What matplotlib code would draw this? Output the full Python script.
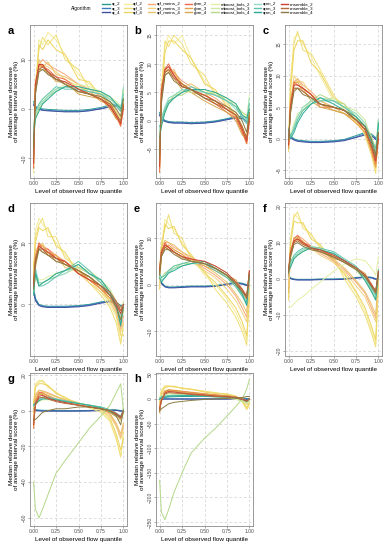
import matplotlib

matplotlib.use("Agg")
import matplotlib.pyplot as plt
from matplotlib.lines import Line2D

plt.rcParams["font.family"] = ["Liberation Sans", "DejaVu Sans"]

# quantile levels shared by every series
quantile_level = [0.0, 0.02, 0.06, 0.1, 0.16, 0.25, 0.35, 0.5, 0.62, 0.75, 0.85, 0.92, 0.97, 1.0]

algorithms = [
    "qr_2", "qr_3", "qr_4",
    "qrf_2", "qrf_3", "qrf_4",
    "qrf_meins_2", "qrf_meins_3", "qrf_meins_4",
    "gbm_2", "gbm_3", "gbm_4",
    "mboost_bols_2", "mboost_bols_3", "mboost_bols_4",
    "qrnn_2", "qrnn_3", "qrnn_4",
    "ensemble_2", "ensemble_3", "ensemble_4",
]

colors = [
    "#2a9d8f", "#3a7dbf", "#3f4f9f",
    "#f5ec9a", "#f0df78", "#eed55e",
    "#f6a77a", "#f3d37e", "#e9c46a",
    "#ef6a45", "#e8a04a", "#d4a84f",
    "#e2f0a4", "#cde8a0", "#b3d888",
    "#8fdcc8", "#5fc4b0", "#2fa996",
    "#cf3f36", "#b5693c", "#8c7a42",
]

panel_a = {
    "qr_2": [1.5, 0.5, 0.2, 0.0, -0.1, -0.2, -0.3, -0.3, -0.1, 0.3, 0.8, 1.0, 0.6, 1.5],
    "qr_3": [1.0, 0.3, 0.0, -0.2, -0.3, -0.4, -0.5, -0.5, -0.3, 0.1, 0.5, 0.7, 0.3, 0.2],
    "qr_4": [0.8, 0.2, -0.1, -0.3, -0.4, -0.5, -0.6, -0.6, -0.4, 0.0, 0.4, 0.6, 0.2, 0.0],
    "qrf_2": [-13, 4, 14, 13, 15.5, 14, 11, 7, 5, 3, 1, -1, -3, 3],
    "qrf_3": [-12, 5, 12, 14.5, 13, 15, 10, 8, 4, 3.5, 0.5, -1.5, -2.5, 4],
    "qrf_4": [-11, 3, 13, 12, 14, 12, 11, 6, 5.5, 2.5, 1.5, -0.5, -2, 2],
    "qrf_meins_2": [-10, 5, 9, 10, 9, 8, 7, 5, 4, 2.5, 1, -1, -3, 1],
    "qrf_meins_3": [-9, 6, 8, 9, 8.5, 7.5, 6, 4.5, 3.5, 2, 0.5, -1.5, -3.5, 2],
    "qrf_meins_4": [-8, 4, 10, 8.5, 9.5, 7, 6.5, 5, 3, 2.5, 1, -2, -2.5, 0],
    "gbm_2": [-12, 4, 9, 8.5, 8, 6.5, 6, 4, 3, 2, 0.5, -1.5, -3.5, 0],
    "gbm_3": [-11, 5, 8.5, 9, 7, 6, 5, 3.5, 3.5, 1.5, 1, -1, -3, 1],
    "gbm_4": [-10, 3, 8, 8, 7.5, 5.5, 5.5, 3, 2.5, 2, 0, -2, -2.5, 0.5],
    "mboost_bols_2": [-4, -1, 1, 2, 3, 4, 5, 5, 4.5, 3.5, 2, 1, 0, 3],
    "mboost_bols_3": [-3, -1.5, 0.5, 1.5, 2.5, 4, 4.5, 4.5, 4, 3, 2.5, 1.5, 0.5, 2],
    "mboost_bols_4": [-5, -2, 0, 1, 2.5, 3.5, 4.5, 4, 4, 3.5, 2, 1, -0.5, 4],
    "qrnn_2": [-5, -1, 0.5, 1.5, 2.5, 4, 4.5, 4, 3.5, 3, 2, 1, 0, 4.5],
    "qrnn_3": [-4, -0.5, 1, 2, 3, 4.5, 4, 4, 3.5, 3, 1.5, 0.5, -0.5, 3],
    "qrnn_4": [-6, -2, -0.5, 1, 2, 3.5, 4.5, 4.5, 4, 3.5, 2.5, 1, 0, 2],
    "ensemble_2": [-11, 5, 9, 9, 7.5, 6, 5.5, 4, 3, 2, 0.5, -1.5, -3, 0.5],
    "ensemble_3": [-10, 4, 8, 8.5, 7.5, 6.5, 5, 3.5, 3, 2, 1, -1, -2.5, 1],
    "ensemble_4": [-8, 3, 7.5, 8, 7, 6, 5, 3.5, 3, 2.5, 1.5, 0, -1.5, 2],
}

panel_b = {
    "qr_2": [1.5, 0.6, 0.1, -0.1, -0.2, -0.2, -0.3, -0.2, 0.0, 0.4, 0.8, 0.7, 0.2, 0.0],
    "qr_3": [1.2, 0.4, 0.0, -0.2, -0.3, -0.3, -0.4, -0.3, -0.1, 0.3, 0.6, 0.5, 0.0, -0.2],
    "qr_4": [1.0, 0.3, -0.1, -0.3, -0.4, -0.4, -0.5, -0.4, -0.2, 0.2, 0.5, 0.4, -0.1, -0.3],
    "qrf_2": [-9, 5, 13, 15, 13.5, 15, 11, 7, 5, 3, 1, -1.5, -4, 2],
    "qrf_3": [-8, 6, 14, 13, 15, 13.5, 10, 8, 4.5, 3.5, 0.5, -2, -3.5, 3],
    "qrf_4": [-7, 4, 12, 14, 14, 12.5, 11, 6.5, 5.5, 2.5, 1.5, -1, -3, 1],
    "qrf_meins_2": [-8, 5, 9, 9.5, 8.5, 7, 6, 5, 4, 2.5, 1, -1.5, -3.5, 0],
    "qrf_meins_3": [-7, 6, 8.5, 9, 8, 6.5, 5.5, 4.5, 3.5, 2, 0.5, -2, -4, 1],
    "qrf_meins_4": [-6, 4, 9.5, 8.5, 9, 6, 6.5, 5, 3, 2.5, 1, -1, -3, 0],
    "gbm_2": [-9, 5, 9, 10, 8, 6, 5.5, 4, 3, 1.5, 0.5, -2, -4, 0],
    "gbm_3": [-8, 6, 8.5, 9, 8.5, 6.5, 5, 4.5, 3.5, 2, 1, -1.5, -3.5, 1],
    "gbm_4": [-7, 4, 8, 8.5, 7.5, 5.5, 5, 3.5, 2.5, 1.5, 0, -2.5, -3, 0.5],
    "mboost_bols_2": [-2, 0, 2, 3.5, 4.5, 5, 5.5, 5, 5, 4, 3, 1.5, 0.5, 4.5],
    "mboost_bols_3": [-1.5, 0.5, 2.5, 3, 4, 5.5, 5, 5.5, 4.5, 4, 2.5, 1, 0, 3],
    "mboost_bols_4": [-2.5, -0.5, 1.5, 3, 4.5, 4.5, 5.5, 4.5, 5, 3.5, 2.5, 1.5, 1, 2],
    "qrnn_2": [-2, 0.5, 2.5, 4, 4.5, 5.5, 5.5, 5, 4.5, 3.5, 2, 1, 0, 4],
    "qrnn_3": [-1, 0, 2, 3.5, 4, 5, 6, 5, 4.5, 3.5, 2.5, 0.5, -0.5, 3],
    "qrnn_4": [-3, -1, 1.5, 3, 4, 5, 5.5, 5.5, 5, 4, 3, 1, 0.5, 2],
    "ensemble_2": [-8, 5, 9, 9.5, 8, 6, 5.5, 4.5, 3.5, 2, 1, -1.5, -3.5, 0.5],
    "ensemble_3": [-7, 4, 8.5, 9, 7.5, 6.5, 5.5, 4, 3, 2, 1, -1, -3, 1],
    "ensemble_4": [-6, 3, 8, 8.5, 7, 6, 5.5, 4, 3.5, 2.5, 1.5, 0, -2, 1.5],
}

panel_c = {
    "qr_2": [1.5, 0.5, 0.0, -0.2, -0.3, -0.4, -0.4, -0.3, -0.1, 0.5, 1.0, 0.8, 0.2, 0.0],
    "qr_3": [1.2, 0.3, -0.1, -0.3, -0.4, -0.5, -0.5, -0.4, -0.2, 0.3, 0.8, 0.6, 0.0, -0.2],
    "qr_4": [1.0, 0.2, -0.2, -0.4, -0.5, -0.6, -0.6, -0.5, -0.3, 0.2, 0.6, 0.5, -0.1, -0.3],
    "qrf_2": [-1, 8, 16, 16.5, 15, 13, 10, 6, 5, 3, 1, -2, -5, 3],
    "qrf_3": [0, 9, 15, 17, 14, 13.5, 11, 7, 4.5, 3.5, 0.5, -2.5, -5.5, 2],
    "qrf_4": [-2, 7, 14, 15.5, 15.5, 12, 10.5, 6.5, 5.5, 2.5, 1.5, -1.5, -4.5, 1],
    "qrf_meins_2": [-1, 6, 9, 9.5, 8.5, 7.5, 6, 5, 4.5, 3, 1.5, -1, -4, 1],
    "qrf_meins_3": [0, 5, 10, 9, 9, 7, 5.5, 4.5, 4, 2.5, 1, -1.5, -4.5, 0],
    "qrf_meins_4": [-1.5, 4, 8.5, 9.5, 8, 7, 6, 5, 4, 3, 2, -0.5, -3.5, 0.5],
    "gbm_2": [-1, 5, 9, 8.5, 8, 7, 5, 5, 4.5, 3, 1.5, -1.5, -4, 0],
    "gbm_3": [-1.5, 6, 8.5, 9, 7.5, 6.5, 5.5, 4.5, 4, 2.5, 1, -2, -4.5, 0.5],
    "gbm_4": [0, 4, 8, 8, 8, 6, 5, 4.5, 4, 3, 2, -1, -3.5, 1],
    "mboost_bols_2": [1.5, 0.5, 2.5, 3.5, 5, 6, 6.5, 6, 5, 4, 2.5, 0.5, -1.5, 3],
    "mboost_bols_3": [1, 0, 2, 4, 4.5, 5.5, 6, 6.5, 5, 4.5, 3, 0, -2, 2.5],
    "mboost_bols_4": [1.5, 0.5, 1.5, 3, 4.5, 6, 7, 6, 5.5, 3.5, 2, 0.5, -2.5, 3],
    "qrnn_2": [1.5, 0, 2, 3.5, 5, 6, 6.5, 6, 5, 4, 2.5, 0, -2, 3],
    "qrnn_3": [1, 0.5, 1.5, 3, 4.5, 5.5, 6, 6, 5, 3.5, 2, 0, -1.5, 2],
    "qrnn_4": [1.5, 0, 1, 2.5, 4, 5.5, 6.5, 5.5, 4.5, 3.5, 2, -0.5, -3, 2.5],
    "ensemble_2": [-1, 5, 8.5, 8.5, 8, 7, 5.5, 5, 4.5, 3, 1.5, -1, -3.5, 0],
    "ensemble_3": [-0.5, 4.5, 8, 8, 7.5, 6.5, 5.5, 5, 4.5, 3, 1.5, -1, -3, 1],
    "ensemble_4": [0, 4, 7.5, 8, 7, 6.5, 5.5, 5, 4.5, 3, 2, 0, -2.5, 1],
}

panel_d = {
    "qr_2": [3, 1, 0.0, -0.2, -0.3, -0.3, -0.3, -0.2, 0.0, 0.4, 0.6, 0.4, -0.2, 0.0],
    "qr_3": [2.5, 0.8, -0.1, -0.3, -0.4, -0.4, -0.4, -0.3, -0.1, 0.3, 0.5, 0.3, -0.3, -0.1],
    "qr_4": [2, 0.6, -0.2, -0.4, -0.5, -0.5, -0.5, -0.4, -0.2, 0.2, 0.4, 0.2, -0.4, -0.2],
    "qrf_2": [5, 12, 14, 13, 12, 10, 8, 5, 4, 2, 0, -2, -6, -4],
    "qrf_3": [4, 11, 13, 14, 11, 11, 7.5, 6, 3.5, 1.5, -0.5, -3, -6.5, -3],
    "qrf_4": [6, 10, 12.5, 12, 12.5, 9.5, 8.5, 5, 4.5, 2.5, 0.5, -1.5, -5, -5],
    "qrf_meins_2": [4, 8, 10, 9.5, 9, 8, 7, 5.5, 4, 2.5, 1, -1, -4, -2],
    "qrf_meins_3": [3, 7, 9.5, 9, 8.5, 7.5, 6.5, 5, 3.5, 2, 0.5, -1.5, -4.5, -3],
    "qrf_meins_4": [5, 9, 9, 10, 8, 8, 6, 5.5, 4.5, 2.5, 1, -0.5, -3.5, -1],
    "gbm_2": [3, 7, 10, 9, 9, 7.5, 7, 5, 4, 2.5, 1.5, 0, -1, 0],
    "gbm_3": [4, 8, 9.5, 9.5, 8.5, 8, 6.5, 5.5, 4, 2.5, 1, -0.5, -1.5, -1],
    "gbm_4": [2, 6, 9, 8.5, 8.5, 7, 7, 5, 4.5, 3, 1.5, 0.5, -0.5, 0],
    "mboost_bols_2": [2, 5, 4, 4, 4.5, 5, 5.5, 6.5, 5, 4, 2, 0, -2.5, 0],
    "mboost_bols_3": [1.5, 5.5, 3.5, 3.5, 4, 4.5, 5, 6, 5.5, 4, 2.5, 0.5, -2, 0.5],
    "mboost_bols_4": [2.5, 4.5, 3, 3.5, 4, 5, 5.5, 6, 5, 3.5, 2, -0.5, -3, -1],
    "qrnn_2": [2, 6, 3.5, 3.5, 4, 4.5, 5, 6.5, 5, 4, 2, 0, -2, 0],
    "qrnn_3": [2.5, 5.5, 3, 3, 3.5, 4.5, 5.5, 7, 5.5, 3.5, 1.5, -0.5, -3, -0.5],
    "qrnn_4": [1.5, 5, 3, 3.5, 4, 5, 5.5, 6.5, 5, 4, 2, 0, -3.5, 0],
    "ensemble_2": [3, 7, 9.5, 9, 8.5, 7.5, 7, 5, 4, 3, 1.5, 0, -1.5, 0],
    "ensemble_3": [3.5, 7.5, 9, 9, 8, 7.5, 6.5, 5.5, 4.5, 3, 2, 0.5, -1, 0],
    "ensemble_4": [2.5, 6.5, 9, 8.5, 8, 7, 6.5, 5.5, 4.5, 3, 1.5, -0.5, -2.5, -0.5],
}

panel_e = {
    "qr_2": [2, 0.5, -0.3, -0.5, -0.5, -0.4, -0.3, -0.3, -0.2, 0.2, 0.5, 0.3, 0.0, 0.0],
    "qr_3": [1.5, 0.3, -0.4, -0.6, -0.6, -0.5, -0.4, -0.4, -0.3, 0.1, 0.4, 0.2, -0.1, -0.1],
    "qr_4": [1.2, 0.2, -0.5, -0.7, -0.7, -0.6, -0.5, -0.5, -0.4, 0.0, 0.3, 0.1, -0.2, -0.2],
    "qrf_2": [0, 8, 14, 13, 12, 9, 6, 2, 0, -3, -6, -9, -12, -2],
    "qrf_3": [1, 9, 12, 15, 11, 10, 5.5, 3, -1, -4, -7, -10, -13, -1],
    "qrf_4": [-1, 7, 13, 12, 12.5, 8.5, 6.5, 2.5, 0.5, -2.5, -5, -8, -11, -3],
    "qrf_meins_2": [1, 7, 9, 9, 8, 7, 5.5, 3.5, 2, 0, -2.5, -5, -7, 0],
    "qrf_meins_3": [0, 6, 8.5, 8, 7.5, 6.5, 5, 3, 1.5, -1, -3.5, -6, -8, -1],
    "qrf_meins_4": [2, 8, 9.5, 9, 8.5, 7, 6, 4, 2.5, 0.5, -2, -4, -6, 1],
    "gbm_2": [3, 7, 9, 8, 7, 6, 5.5, 4.5, 3.5, 2, 0.5, -1.5, -3, 3],
    "gbm_3": [2, 6, 8, 8.5, 7.5, 6.5, 5, 4, 3, 1.5, 0, -2, -3.5, 2],
    "gbm_4": [4, 7.5, 8.5, 7.5, 7, 5.5, 5.5, 4.5, 3.5, 2, 1, -1, -2.5, 3],
    "mboost_bols_2": [2, 1.5, 2, 3, 4, 4.5, 5, 4.5, 3.5, 2, 0.5, -1.5, -3, 2],
    "mboost_bols_3": [2.5, 1, 1.5, 2.5, 3.5, 4, 4.5, 5, 4, 2.5, 0, -2, -3.5, 1.5],
    "mboost_bols_4": [1.5, 1.5, 2.5, 3, 3.5, 4.5, 4.5, 4.5, 3.5, 1.5, -0.5, -2.5, -4, 2.5],
    "qrnn_2": [2, 1, 1.5, 2.5, 3.5, 4, 4.5, 4.5, 3.5, 2, 0, -2, -3.5, 2],
    "qrnn_3": [2.5, 1.5, 2, 3, 4, 4.5, 5, 4.5, 3, 1.5, -0.5, -2.5, -4, 1.5],
    "qrnn_4": [1.5, 0.5, 1.5, 2.5, 3, 4, 4.5, 5, 3.5, 2, 0, -2, -4.5, 2.5],
    "ensemble_2": [3, 7, 8.5, 8, 7, 6, 5.5, 5, 4, 2.5, 0.5, -1, -2.5, 3],
    "ensemble_3": [2.5, 6.5, 8, 7.5, 7, 6, 5, 4.5, 3.5, 2, 0.5, -1.5, -3, 2.5],
    "ensemble_4": [2, 6, 7.5, 7.5, 6.5, 5.5, 5, 4.5, 3.5, 2, 0, -1.5, -2.5, 2],
}

panel_f = {
    "qr_2": [1, 0.2, -0.1, -0.2, -0.2, -0.2, -0.1, -0.1, 0.0, 0.3, 0.5, 0.4, 0.0, 0.0],
    "qr_3": [0.8, 0.1, -0.2, -0.3, -0.3, -0.3, -0.2, -0.2, -0.1, 0.2, 0.4, 0.3, -0.1, -0.1],
    "qr_4": [0.6, 0.0, -0.3, -0.4, -0.4, -0.4, -0.3, -0.3, -0.2, 0.1, 0.3, 0.2, -0.2, -0.2],
    "qrf_2": [-5, 10, 18, 17, 15, 12, 9, 5, 1, -4, -9, -14, -18, 0],
    "qrf_3": [-4, 11, 17, 18.5, 14, 12.5, 8.5, 6, 0, -5, -10, -15, -19, -2],
    "qrf_4": [-6, 9, 16, 15.5, 15.5, 11, 9.5, 4.5, 1.5, -3.5, -8, -13, -17, 1],
    "qrf_meins_2": [-3, 6, 11, 12, 11, 9, 7, 5, 2.5, -1, -4, -8, -11, 0],
    "qrf_meins_3": [-2, 5, 10, 11, 10, 8.5, 6.5, 4.5, 2, -2, -5, -9, -12, -1],
    "qrf_meins_4": [-4, 7, 11.5, 11, 10.5, 8, 7.5, 5.5, 3, -0.5, -3.5, -7, -10, 1],
    "gbm_2": [2, 7, 11, 12, 10, 9, 8, 6, 5, 3, 1, -2, -4, 2],
    "gbm_3": [3, 8, 10.5, 11, 9.5, 8.5, 7.5, 6.5, 4.5, 2.5, 0.5, -2.5, -4.5, 1],
    "gbm_4": [1, 6, 10, 11.5, 10, 8.5, 8, 5.5, 5, 3, 1.5, -1.5, -3.5, 2.5],
    "mboost_bols_2": [-8, -8, -7, -6, -5, -3, -1, 2, 4, 5.5, 5, 3, 1, 6],
    "mboost_bols_3": [1.5, 4, 6, 7, 8, 8.5, 8, 7, 5, 3, 0, -3, -5, 2],
    "mboost_bols_4": [2.5, 3.5, 5.5, 6.5, 7.5, 9, 8.5, 6.5, 4.5, 2.5, -0.5, -3.5, -5.5, 1.5],
    "qrnn_2": [2, 4, 6, 7, 8, 9, 8, 7, 5, 3, 0, -3, -5, 2],
    "qrnn_3": [1.5, 4.5, 6.5, 7.5, 8.5, 8.5, 8.5, 7.5, 5.5, 3.5, 0.5, -2.5, -4.5, 2.5],
    "qrnn_4": [2.5, 3, 5.5, 6.5, 7.5, 8.5, 8, 7, 5, 3, -0.5, -3.5, -6, 1.5],
    "ensemble_2": [2, 7, 10.5, 11, 10, 8.5, 8, 6.5, 5, 3, 1, -1.5, -3.5, 2],
    "ensemble_3": [2.5, 6.5, 10, 10.5, 9.5, 8.5, 7.5, 6, 4.5, 3, 1, -2, -4, 1.5],
    "ensemble_4": [1.5, 6, 9.5, 10, 9, 8, 7.5, 6, 4.5, 2.5, 0.5, -2, -3.5, 1],
}

panel_g = {
    "qr_2": [1, 0.5, 0.3, 0.2, 0.1, 0.0, 0.0, 0.0, 0.1, 0.3, 0.5, 0.4, 0.0, 0.0],
    "qr_3": [0.5, 0.2, 0.0, -0.1, -0.2, -0.2, -0.2, -0.2, -0.1, 0.1, 0.3, 0.2, -0.2, -0.2],
    "qr_4": [0.3, 0.0, -0.2, -0.3, -0.3, -0.3, -0.3, -0.3, -0.2, 0.0, 0.2, 0.1, -0.3, -0.3],
    "qrf_2": [3, 15, 17, 16, 14, 10, 7, 4, 2, 0, -5, -15, -25, -15],
    "qrf_3": [2, 14, 16, 17, 13, 10.5, 6.5, 4.5, 1.5, -1, -6, -16, -26, -12],
    "qrf_4": [4, 13, 15, 15, 14, 9.5, 7.5, 3.5, 2.5, 0.5, -4, -13, -22, -16],
    "qrf_meins_2": [-2, 8, 11, 11, 10, 8, 6, 4, 3, 1.5, -2, -8, -15, -8],
    "qrf_meins_3": [-3, 7, 10, 10.5, 9.5, 7.5, 5.5, 3.5, 2.5, 1, -3, -9, -16, -10],
    "qrf_meins_4": [-1, 9, 11.5, 11, 9.5, 8, 6, 4, 3, 1.5, -1.5, -7, -13, -7],
    "gbm_2": [-10, 5, 10, 10, 8, 6, 5, 3, 2, 1, -1, -3, -5, 0],
    "gbm_3": [-8, 6, 9.5, 9.5, 8.5, 6.5, 5, 3.5, 2.5, 1.5, -0.5, -2.5, -4.5, 1],
    "gbm_4": [-9, 4, 9, 9, 7.5, 6, 4.5, 3, 2, 1, -1, -3.5, -5.5, -1],
    "mboost_bols_2": [3, 4, 5, 6, 6, 5.5, 5, 4, 3, 2, 0, -3, -6, -2],
    "mboost_bols_3": [2, 3, 5.5, 6.5, 6.5, 6, 5, 4, 3, 2, 0.5, -2, -4, -1],
    "mboost_bols_4": [-40, -55, -60, -55, -47, -35, -28, -18, -10, -3, 3, 10, 15, 0],
    "qrnn_2": [3, 4, 6, 7, 7, 6, 5, 4, 3, 2, 0, -2, -3, 0],
    "qrnn_3": [2.5, 4.5, 6.5, 7.5, 7.5, 6.5, 5.5, 4, 3, 2, 0.5, -1.5, -3, 0.5],
    "qrnn_4": [3.5, 3.5, 5.5, 6.5, 6.5, 6, 5, 4, 3, 1.5, -0.5, -2.5, -4, -0.5],
    "ensemble_2": [-8, 4, 8, 8.5, 7, 5.5, 4.5, 3, 2, 1, 0, -2, -4, 0],
    "ensemble_3": [-6, 3, 7, 7.5, 6.5, 5, 4, 3, 2, 1, 0, -1.5, -3.5, 0],
    "ensemble_4": [-5, -5, -3, -1, 0, 1, 1, 2, 2, 1, 0, -3, -8, 0],
}

panel_h = {
    "qr_2": [1, 2, 3, 4, 4.5, 5, 5, 5, 4.5, 4, 3, 2, 1, 1],
    "qr_3": [0, 0, 0.5, 0.5, 0.5, 0.5, 0.5, 0.5, 0.5, 0.5, 0.5, 0.5, 0, 0],
    "qr_4": [-1, -1, -0.5, -0.5, -0.5, -0.5, -0.5, -0.5, -0.5, -0.5, 0, 0, -1, -1],
    "qrf_2": [-10, 15, 25, 27, 25, 22, 20, 15, 12, 10, 5, -5, -20, -10],
    "qrf_3": [-8, 18, 27, 26, 24, 23, 19, 16, 13, 9, 4, -6, -22, -12],
    "qrf_4": [-12, 13, 23, 25, 26, 21, 20, 14, 11, 10, 6, -4, -18, -8],
    "qrf_meins_2": [-15, 8, 16, 18, 17, 15, 13, 10, 8, 6, 3, -3, -10, -5],
    "qrf_meins_3": [-18, 6, 15, 17, 16, 14, 12, 9, 7, 5, 2, -4, -12, -6],
    "qrf_meins_4": [-12, 9, 17, 19, 18, 16, 14, 11, 9, 7, 4, -2, -8, -4],
    "gbm_2": [-25, 0, 15, 18, 17, 15, 13, 10, 8, 6, 4, 0, -5, 0],
    "gbm_3": [-22, 3, 14, 17, 16, 14, 12, 9, 7, 5, 3, -1, -6, -2],
    "gbm_4": [-28, -3, 13, 16, 16, 14, 12, 9, 7, 6, 4, 1, -4, 0],
    "mboost_bols_2": [5, 8, 10, 11, 11, 10, 9, 7, 5, 3, 0, -4, -8, -3],
    "mboost_bols_3": [3, 6, 9, 10, 10, 9, 8, 6, 4, 2, -1, -5, -10, -5],
    "mboost_bols_4": [-165, -230, -245, -225, -190, -150, -110, -80, -60, -35, -15, 0, 20, 40],
    "qrnn_2": [0, 3, 5, 6, 7, 7, 7, 6, 5, 4, 3, 0, -5, 0],
    "qrnn_3": [1, 4, 6, 7, 7.5, 7.5, 7, 6, 5, 4, 2, -1, -6, -1],
    "qrnn_4": [-1, 2, 4, 5, 6, 6.5, 6.5, 5.5, 4.5, 3.5, 2, -1, -4, 0],
    "ensemble_2": [-20, -2, 12, 15, 14, 12, 10, 8, 6, 5, 3, 0, -4, 0],
    "ensemble_3": [-22, -5, 10, 13, 12, 11, 9, 7, 5, 4, 2, -1, -5, 0],
    "ensemble_4": [-25, -20, -15, -10, -7, -5, -3, -1, 0, 1, 2, 3, 5, 5],
}

panels = [
    ("a", panel_a, (-14, 17), [-10, 0, 10]),
    ("b", panel_b, (-10, 16.8), [-5, 0, 5, 10, 15]),
    ("c", panel_c, (-6.2, 18), [-5, 0, 5, 10, 15]),
    ("d", panel_d, (-8.4, 16.5), [0, 10]),
    ("e", panel_e, (-15.3, 17.5), [-10, 0, 10]),
    ("f", panel_f, (-21.5, 21), [-20, -10, 0, 10, 20]),
    ("g", panel_g, (-64.5, 21), [-60, -40, -20, 0, 20]),
    ("h", panel_h, (-258, 52.7), [-250, -200, -150, -100, -50, 0, 50]),
]

W, H = 389, 550
col_left = [30, 156, 285]
row_top = [25, 203, 373]
ax_w, ax_h = 97, 153

fig = plt.figure(figsize=(W / 100, H / 100), dpi=100)

for i, (letter, data, ylim, yticks) in enumerate(panels):
    r, c = divmod(i, 3)
    left = col_left[c]
    top = row_top[r]
    ax = fig.add_axes([left / W, 1 - (top + ax_h) / H, ax_w / W, ax_h / H])
    for name, col in zip(algorithms, colors):
        ax.plot(quantile_level, data[name], color=col, linewidth=0.7)
    ax.set_xlim(-0.04, 1.04)
    ax.set_ylim(*ylim)
    ax.set_xticks([0, 0.25, 0.5, 0.75, 1.0])
    ax.set_xticklabels(["0.00", "0.25", "0.50", "0.75", "1.00"])
    ax.set_yticks(yticks)
    ax.grid(True, color="#d0d0d0", linestyle=(0, (4, 3)), linewidth=0.5)
    ax.set_axisbelow(True)
    for s in ax.spines.values():
        s.set_color("#8a8a8a")
        s.set_linewidth(0.6)
    ax.tick_params(axis="both", length=1.5, width=0.4, color="#666666",
                   labelsize=3.6, labelcolor="#4d4d4d", pad=1)
    for lab in ax.get_yticklabels():
        lab.set_rotation(90)
        lab.set_va("center")
    ax.set_xlabel("Level of observed flow quantile", fontsize=4.6, labelpad=1.5)
    ax.set_ylabel("Median relative decrease\nof average interval score (%)",
                  fontsize=4.6, labelpad=2, linespacing=1.0)
    fig.text((left - 22) / W, 1 - (top + 6) / H, letter, fontsize=8,
             fontweight="bold", ha="left", va="center")

handles = [Line2D([0], [0], color=col, linewidth=1.0) for col in colors]
fig.legend(handles, algorithms, ncol=7, loc="center", bbox_to_anchor=(208 / W, 1 - 8.5 / H),
           fontsize=3.2, frameon=False, handlelength=1.6, handletextpad=0.4,
           columnspacing=1.0, labelspacing=0.05, borderpad=0)
fig.text(91 / W, 1 - 8.5 / H, "Algorithm", fontsize=3.4, ha="right", va="center")

fig.savefig("out.png", dpi=100)
